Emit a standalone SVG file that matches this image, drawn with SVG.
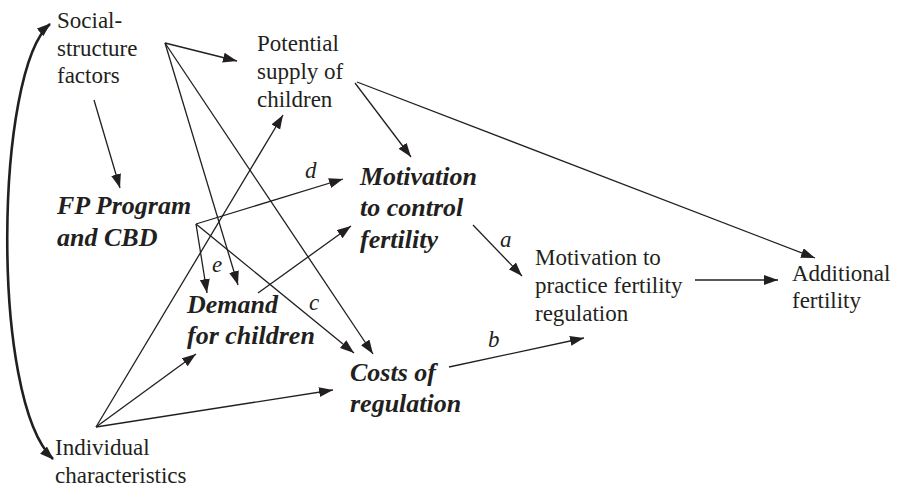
<svg xmlns="http://www.w3.org/2000/svg" width="897" height="489" viewBox="0 0 897 489" font-family="Liberation Serif, serif">
<style>
text{fill:#231f20}
.n{font-size:23px}
.b{font-size:26px;font-weight:bold;font-style:italic}
.l{font-size:23px;font-style:italic}
.c line{stroke:#231f20;stroke-width:1.3;marker-end:url(#ah)}
.thick{fill:none;stroke:#231f20;stroke-width:2.6;marker-start:url(#ah2);marker-end:url(#ah2)}
</style>
<defs>
<marker id="ah" markerUnits="userSpaceOnUse" markerWidth="16" markerHeight="12" refX="14" refY="5" orient="auto"><path d="M0,0 L14,5 L0,10 z" fill="#231f20"/></marker>
<marker id="ah2" markerUnits="userSpaceOnUse" markerWidth="16" markerHeight="12" refX="13" refY="5" orient="auto-start-reverse"><path d="M0,0 L14,5 L0,10 z" fill="#231f20"/></marker>
</defs>
<rect width="897" height="489" fill="#fff"/>
<g id="connectors" class="c">
<path class="thick" d="M50 24 C -5 70, -10 400, 53 459"/>
<line x1="165" y1="43" x2="237" y2="61"/>
<line x1="165" y1="43" x2="238" y2="285"/>
<line x1="165" y1="43" x2="373" y2="354"/>
<line x1="94" y1="100" x2="120" y2="188"/>
<line x1="196" y1="224" x2="343" y2="179"/>
<line x1="196" y1="224" x2="207" y2="293"/>
<line x1="196" y1="224" x2="354" y2="353"/>
<line x1="258" y1="293" x2="351" y2="226"/>
<line x1="355" y1="83" x2="411" y2="157"/>
<line x1="357" y1="82" x2="815" y2="258"/>
<line x1="473" y1="225" x2="522" y2="276"/>
<line x1="449" y1="367" x2="584" y2="338"/>
<line x1="695" y1="280" x2="778" y2="280"/>
<line x1="96" y1="427" x2="283" y2="115"/>
<line x1="96" y1="427" x2="196" y2="354"/>
<line x1="96" y1="427" x2="333" y2="390"/>
</g>
<g id="social"><text class="n" x="57" y="28">Social-</text><text class="n" x="57" y="56">structure</text><text class="n" x="57" y="83">factors</text></g>
<g id="supply"><text class="n" x="257" y="51">Potential</text><text class="n" x="257" y="79">supply of</text><text class="n" x="257" y="107">children</text></g>
<g id="fp"><text class="b" x="57" y="214">FP Program</text><text class="b" x="57" y="246">and CBD</text></g>
<g id="motivation"><text class="b" x="360" y="185">Motivation</text><text class="b" x="360" y="216">to control</text><text class="b" x="360" y="248">fertility</text></g>
<g id="demand"><text class="b" x="187" y="313">Demand</text><text class="b" x="187" y="344">for children</text></g>
<g id="costs"><text class="b" x="350" y="381">Costs of</text><text class="b" x="350" y="412">regulation</text></g>
<g id="practice"><text class="n" x="535" y="265">Motivation to</text><text class="n" x="535" y="293">practice fertility</text><text class="n" x="535" y="321">regulation</text></g>
<g id="additional"><text class="n" x="792" y="281">Additional</text><text class="n" x="792" y="308">fertility</text></g>
<g id="individual"><text class="n" x="55" y="455">Individual</text><text class="n" x="55" y="483">characteristics</text></g>
<g id="labels"><text class="l" x="305" y="178">d</text><text class="l" x="212" y="272">e</text><text class="l" x="309" y="310">c</text><text class="l" x="500" y="247">a</text><text class="l" x="488" y="347">b</text></g>
</svg>
